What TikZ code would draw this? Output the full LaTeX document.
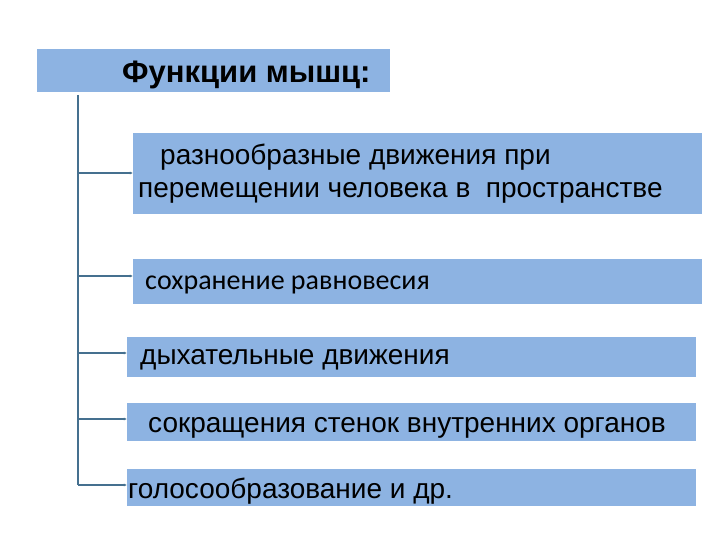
\documentclass[tikz,border=0pt]{standalone}
\usepackage{fontspec}
\setmainfont{Liberation Sans}
\newfontfamily\calib{Carlito}
\usetikzlibrary{arrows.meta}
\definecolor{boxfill}{HTML}{8DB3E2}
\definecolor{conn}{HTML}{45708F}
\tikzset{
  fbox/.style={fill=boxfill, draw=none},
  txt/.style={anchor=base west, inner sep=0pt, text=black},
  anchorpt/.style={inner sep=0pt, minimum size=0pt},
  link/.style={draw=conn, line width=1.3pt, -{Latex[length=3pt,width=3pt]}},
}
\begin{document}
\begin{tikzpicture}[x=1pt,y=-1pt]
\useasboundingbox[fill=white] (0,0) rectangle (720,540);
% title
\fill[fbox] (37,49) rectangle (390,92);
\node[txt, font=\bfseries\fontsize{31}{34}\selectfont] (title) at (122,83) {Функции мышц:};
% boxes
\fill[fbox] (133,133) rectangle (702,214);
\node[anchorpt] (b1) at (133,173) {};
\node[txt, font=\fontsize{28}{32}\selectfont] (t1a) at (160,165) {разнообразные движения при};
\node[txt, font=\fontsize{28}{32}\selectfont] (t1b) at (138,198) {перемещении человека в\ \ пространстве};
\fill[fbox] (133,259) rectangle (702,304);
\node[anchorpt] (b2) at (133,276) {};
\node[txt, font=\calib\fontsize{28}{32}\selectfont] (t2) at (145,289) {сохранение равновесия};
\fill[fbox] (127,337) rectangle (696,377);
\node[anchorpt] (b3) at (127,353) {};
\node[txt, font=\fontsize{28}{32}\selectfont] (t3) at (140,364) {дыхательные движения};
\fill[fbox] (127,403) rectangle (696,441);
\node[anchorpt] (b4) at (127,419) {};
\node[txt, font=\fontsize{28}{32}\selectfont] (t4) at (148,432) {сокращения стенок внутренних органов};
\fill[fbox] (127,469) rectangle (696,506);
\node[anchorpt] (b5) at (127,485) {};
\node[txt, font=\fontsize{28}{32}\selectfont] (t5) at (128,498) {голосообразование и др.};
% connectors
\coordinate (top) at (78,95);
\coordinate (bot) at (78,485);
\draw[conn, line width=1.3pt] (top) -- (bot);
\foreach \b in {b1,b2,b3,b4,b5}{
  \draw[link] (top |- \b) -- (\b);
}
\end{tikzpicture}
\end{document}
